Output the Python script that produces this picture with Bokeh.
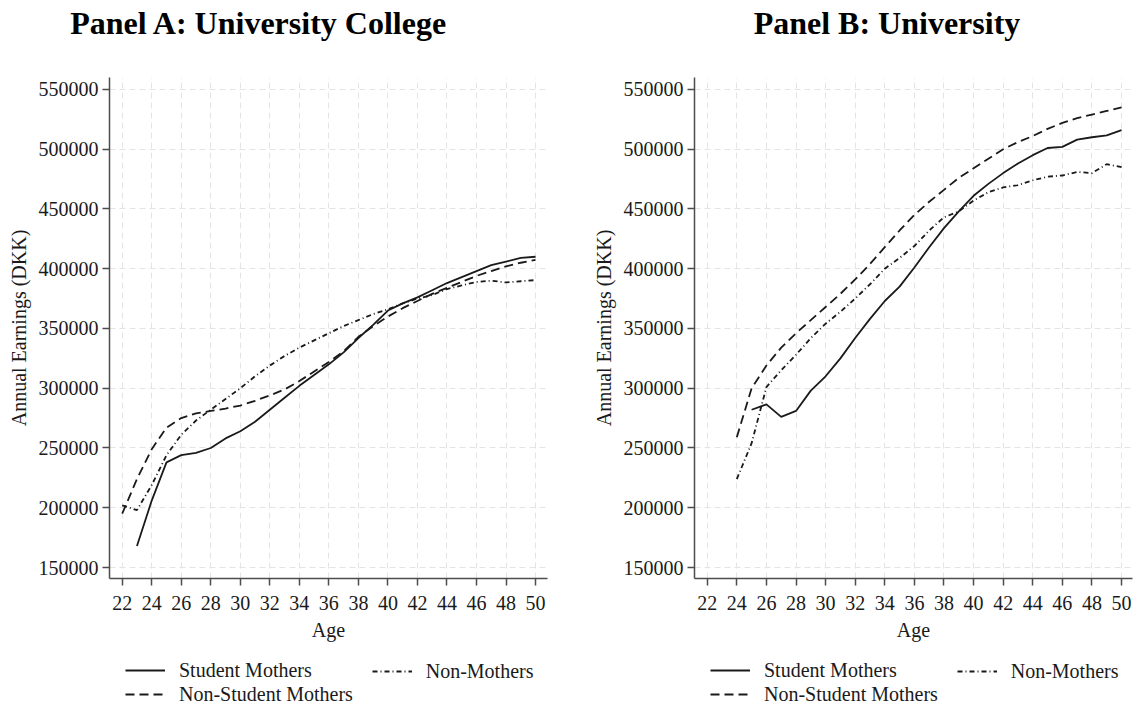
from bokeh.plotting import figure
from bokeh.models import (Range1d, FixedTicker, BasicTickFormatter, Legend,
                          LegendItem, Label)
from bokeh.layouts import row, column
from bokeh.embed import file_html
from bokeh.resources import INLINE

FONT = "Liberation Serif"

# ---------------- data ----------------
panel_titles = ["Panel A: University College", "Panel B: University"]
series_labels = ["Student Mothers", "Non-Student Mothers", "Non-Mothers"]
x_ticks = [22, 24, 26, 28, 30, 32, 34, 36, 38, 40, 42, 44, 46, 48, 50]
y_ticks = [150000, 200000, 250000, 300000, 350000, 400000, 450000, 500000, 550000]

# Panel A: University College
ages_a_sm = list(range(23, 51))
earn_a_sm = [168000, 206000, 238000, 244000, 246000, 250000, 258000, 264000,
             272000, 282000, 292000, 302000, 311000, 320000, 330000, 342000,
             353000, 365000, 371000, 376000, 382000, 388000, 393000, 398000,
             403000, 406000, 409000, 410000]
ages_a_nsm = list(range(22, 51))
earn_a_nsm = [195000, 224000, 249000, 267000, 275000, 279000, 281000, 283000,
              285500, 289500, 294000, 299000, 306000, 314000, 322000, 331000,
              343000, 352000, 360000, 367000, 373000, 379000, 384000, 389000,
              394000, 398000, 402000, 405000, 407500]
ages_a_nm = list(range(22, 51))
earn_a_nm = [202000, 198000, 219000, 244000, 261000, 273000, 282000, 291000,
             300000, 310000, 319000, 327000, 334000, 340000, 346000, 352000,
             357000, 362000, 366000, 371000, 375000, 378000, 383000, 386000,
             389000, 390000, 388500, 389500, 390500]

# Panel B: University
ages_b_sm = list(range(25, 51))
earn_b_sm = [282000, 286500, 276000, 281000, 298000, 310000, 325000, 342000,
             358000, 373000, 385000, 401000, 418000, 434000, 448000, 461000,
             471000, 480000, 488000, 495000, 501000, 502000, 508000, 510000,
             511500, 516000]
ages_b_nsm = list(range(24, 51))
earn_b_nsm = [259000, 300000, 319000, 334000, 346000, 357000, 368000, 379000,
              391000, 404000, 418000, 432000, 445000, 456000, 466000, 476000,
              484000, 492000, 500000, 506000, 511000, 517000, 522000, 526000,
              529000, 532000, 535000]
ages_b_nm = list(range(24, 51))
earn_b_nm = [224000, 254000, 301000, 315000, 328000, 342000, 354000, 364000,
             375000, 387000, 400000, 409000, 419000, 432000, 443000, 448000,
             457000, 464000, 468000, 470000, 474000, 477000, 478000, 481000,
             480000, 487500, 485000]

LINE_COLOR = "#1a1a1a"
LINE_WIDTH = 1.8
DASHES = ["solid", "9 5", "5 3 1 3"]

TOTAL_W = 1134
TITLE_H = 77
LEGEND_H = 56
PLOT_H = 706 - TITLE_H - LEGEND_H


def blank(width, height):
    f = figure(width=width, height=height, x_range=Range1d(0, 1),
               y_range=Range1d(0, 1), x_axis_type=None, y_axis_type=None,
               output_backend="svg", toolbar_location=None, min_border=0)
    f.outline_line_color = None
    f.xgrid.visible = False
    f.ygrid.visible = False
    f.background_fill_color = "white"
    f.border_fill_color = "white"
    return f


def make_panel(series, width, min_left, min_right, x_end):
    p = figure(width=width, height=PLOT_H,
               x_range=Range1d(21.14, x_end), y_range=Range1d(140800, 560000),
               output_backend="svg", toolbar_location=None,
               min_border_left=min_left, min_border_right=min_right,
               min_border_top=0, min_border_bottom=PLOT_H - 501)
    p.outline_line_color = None
    p.background_fill_color = "white"
    p.border_fill_color = "white"

    for ax in (p.xaxis[0], p.yaxis[0]):
        ax.axis_line_color = "#4d4d4d"
        ax.axis_line_width = 1.5
        ax.major_tick_line_color = "#4d4d4d"
        ax.major_tick_line_width = 1.5
        ax.major_tick_out = 7
        ax.major_tick_in = 0
        ax.minor_tick_line_color = None
        ax.major_label_text_font = FONT
        ax.major_label_text_font_size = "20px"
        ax.major_label_text_color = "#1a1a1a"
        ax.axis_label_text_font = FONT
        ax.axis_label_text_font_size = "20px"
        ax.axis_label_text_font_style = "normal"
        ax.axis_label_text_color = "#1a1a1a"

    p.xaxis.ticker = FixedTicker(ticks=x_ticks)
    p.yaxis.ticker = FixedTicker(ticks=y_ticks)
    p.yaxis.formatter = BasicTickFormatter(use_scientific=False)
    p.xaxis.axis_label = "Age"
    p.yaxis.axis_label = "Annual Earnings (DKK)"
    p.xaxis.major_label_standoff = 10
    p.xaxis.axis_label_standoff = 6
    p.yaxis.major_label_standoff = 4
    p.yaxis.axis_label_standoff = 6

    for g in (p.xgrid[0], p.ygrid[0]):
        g.grid_line_color = "#e4e4e4"
        g.grid_line_dash = "6 4"
        g.grid_line_width = 1

    for (ages, vals), dash in zip(series, DASHES):
        p.line(ages, vals, line_color=LINE_COLOR, line_width=LINE_WIDTH,
               line_dash=dash)
    return p


# ---- title strip ----
top = blank(TOTAL_W, TITLE_H)
for txt, cx in zip(panel_titles, [258.5, 886.5]):
    top.add_layout(Label(x=cx, y=TITLE_H - 22.3, x_units="screen", y_units="screen",
                         text=txt, text_font=FONT, text_font_size="32px",
                         text_font_style="bold", text_color="black",
                         text_align="center", text_baseline="alphabetic"))

# ---- plots ----
series_a = [(ages_a_sm, earn_a_sm), (ages_a_nsm, earn_a_nsm), (ages_a_nm, earn_a_nm)]
series_b = [(ages_b_sm, earn_b_sm), (ages_b_nsm, earn_b_nsm), (ages_b_nm, earn_b_nm)]
pa = make_panel(series_a, width=575, min_left=109, min_right=28, x_end=50.81)
pb = make_panel(series_b, width=559, min_left=119, min_right=2, x_end=50.74)

# ---- legend strip (key lines reuse the series data, which lies outside this strip's view) ----
leg = blank(TOTAL_W, LEGEND_H)
keys = [leg.line(ages, vals, line_color=LINE_COLOR, line_width=LINE_WIDTH, line_dash=d)
        for (ages, vals), d in zip(series_a, DASHES)]
common = dict(glyph_width=40, glyph_height=22, label_height=22,
              label_standoff=14, spacing=1, padding=0, margin=0,
              border_line_color=None, background_fill_alpha=0,
              label_text_font=FONT, label_text_font_size="20px",
              label_text_color="#1a1a1a", orientation="vertical")
for x0 in (125, 710):
    leg.add_layout(Legend(items=[LegendItem(label=series_labels[0], renderers=[keys[0]]),
                                 LegendItem(label=series_labels[1], renderers=[keys[1]])],
                          location=(x0, 0.3), **common), "center")
    leg.add_layout(Legend(items=[LegendItem(label=series_labels[2], renderers=[keys[2]])],
                          location=(x0 + 246.7, 23.3), **common), "center")

layout = column(top, row(pa, pb, spacing=0), leg, spacing=0)
open("out.html", "w").write(file_html(layout, INLINE))
